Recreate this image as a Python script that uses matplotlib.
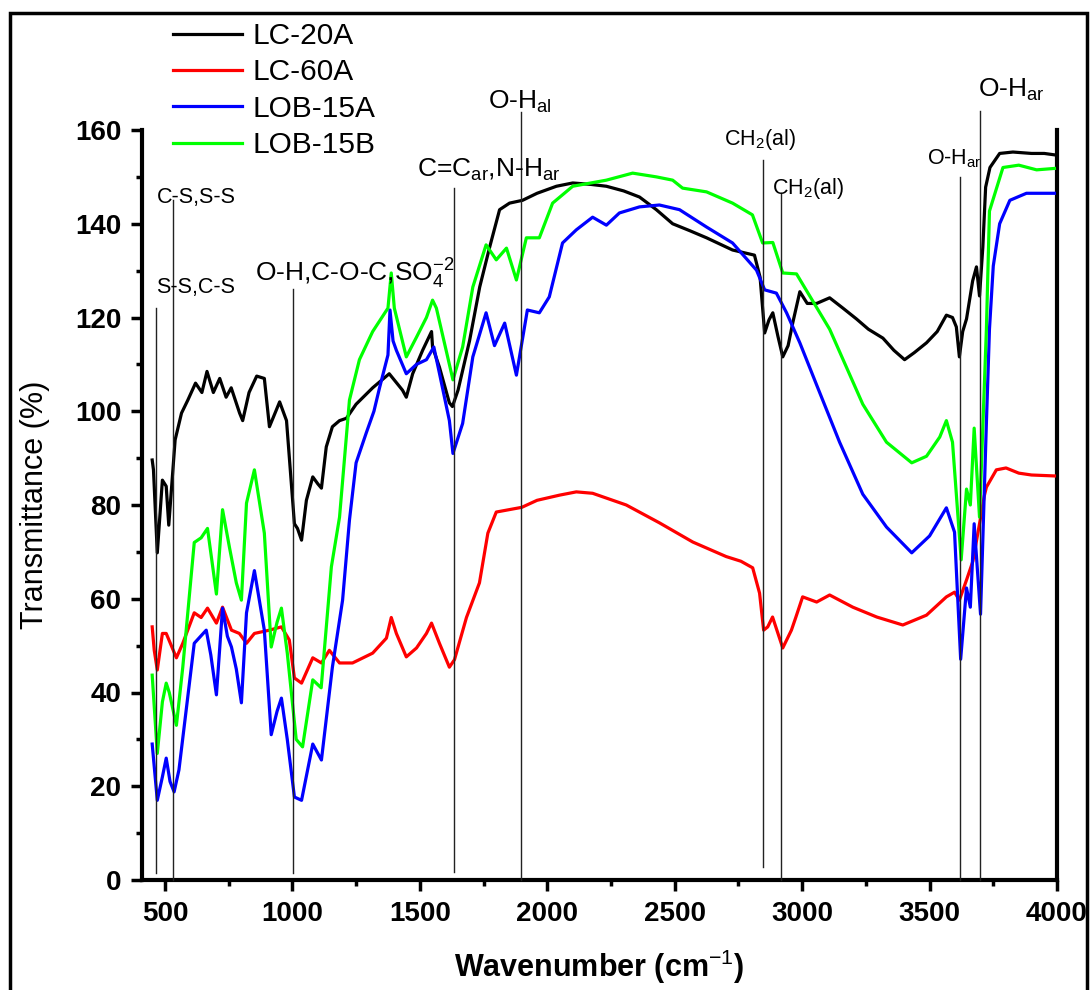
import matplotlib
matplotlib.use("Agg")
from matplotlib import pyplot as plt
from matplotlib.patches import Rectangle

plt.rcParams['font.family'] = ['Liberation Sans', 'DejaVu Sans']
plt.rcParams['mathtext.fontset'] = 'custom'
plt.rcParams['mathtext.rm'] = 'Liberation Sans'
plt.rcParams['mathtext.it'] = 'Liberation Sans:italic'
plt.rcParams['mathtext.bf'] = 'Liberation Sans:bold'

# LC-20A
lc20a_wn = [450, 455, 470, 490, 505, 515, 540, 565, 590, 620, 645, 665, 690, 715, 740, 760, 793, 805, 830,
            860, 890, 910, 935, 950, 977, 1008, 1020, 1036, 1055, 1080, 1100, 1114, 1133, 1157, 1185, 1212,
            1250, 1315, 1380, 1432, 1447, 1472, 1511, 1546, 1550, 1577, 1616, 1628, 1650, 1695, 1735, 1774,
            1813, 1852, 1903, 1960, 2036, 2100, 2170, 2232, 2300, 2362, 2428, 2492, 2560, 2625, 2727, 2813,
            2835, 2853, 2870, 2885, 2905, 2924, 2945, 2963, 2991, 3020, 3057, 3108, 3160, 3213, 3260, 3317,
            3360, 3402, 3440, 3488, 3530, 3566, 3590, 3605, 3617, 3630, 3645, 3669, 3684, 3696, 3709, 3720,
            3737, 3775, 3827, 3900, 3950, 3990]
lc20a_t = [89.6, 87.5, 69.8, 85.3, 84, 75.7, 93.9, 99.6, 102.4, 106, 104, 108.5, 104, 107, 103, 105, 99.6, 98,
           104, 107.5, 107, 96.7, 100, 102, 98, 76, 75, 72.5, 81, 86, 84.5, 83.6, 92.4, 96.7, 98, 98.5,
           101.5, 105, 108, 104.5, 103, 108, 113, 117, 113.7, 109.4, 101.8, 101, 104.5, 115, 126.5, 135,
           143, 144.4, 145, 146.5, 148, 148.7, 148.4, 148, 147, 145.7, 143, 140, 138.5, 137, 134.4, 133.3,
           128.6, 116.7, 119.5, 121, 116, 111.6, 114, 118.8, 125.5, 123, 123, 124.2, 122, 119.7, 117.5, 115.6,
           113, 111, 112.5, 114.6, 117, 120.5, 120, 118, 111.6, 117, 119.7, 127.8, 130.8, 124.6, 135, 147.8,
           152, 155, 155.3, 155, 155, 154.7]

# LC-60A
lc60a_wn = [450, 458, 470, 490, 505, 525, 545, 570, 615, 642, 667, 702, 726, 761, 792, 820, 851, 910, 957, 988,
            1008, 1036, 1080, 1114, 1145, 1185, 1236, 1315, 1369, 1388, 1408, 1447, 1487, 1526, 1546, 1577,
            1616, 1636, 1683, 1734, 1767, 1800, 1850, 1900, 1960, 2048, 2114, 2178, 2310, 2440, 2571, 2702,
            2760, 2806, 2833, 2849, 2865, 2884, 2924, 2958, 2975, 3002, 3057, 3108, 3199, 3293, 3395, 3488,
            3566, 3598, 3617, 3645, 3670, 3696, 3715, 3723, 3762, 3800, 3850, 3900, 3990]
lc60a_t = [54, 49, 44.8, 52.6, 52.6, 50, 47.4, 50.5, 57, 56, 58, 54.8, 58.2, 53.3, 52.6, 50.5, 52.6, 53.3, 54, 51.2,
           43.1, 42, 47.4, 46.3, 49, 46.3, 46.3, 48.4, 51.6, 56, 52.6, 47.6, 49.5, 52.6, 54.8, 50.5,
           45.4, 47, 56, 63.4, 74, 78.5, 79, 79.5, 81, 82.1, 82.8, 82.5, 80, 76.2, 72.1, 69,
           68, 66.6, 61.2, 53.3, 54, 56.1, 49.5, 53.3, 56, 60.4, 59.3, 60.8, 58.2, 56.1, 54.4, 56.5,
           60.4, 61.4, 59.7, 64, 68, 76, 82, 83.8, 87.5, 87.9, 86.8, 86.4, 86.2]

# LOB-15A
lob15a_wn = [450, 470, 490, 505, 520, 536, 555, 615, 662, 680, 702, 726, 745, 761, 780, 800, 820, 851, 890, 917,
             940, 957, 980, 1008, 1036, 1080, 1114, 1157, 1197, 1224, 1250, 1290, 1320, 1342, 1375, 1383, 1395,
             1408, 1447, 1487, 1526, 1555, 1577, 1616, 1630, 1668, 1708, 1760, 1793, 1833, 1879, 1922, 1969,
             2008, 2060, 2114, 2178, 2232, 2283, 2362, 2440, 2519, 2625, 2727, 2821, 2853, 2899, 2939, 2991,
             3057, 3147, 3238, 3331, 3430, 3500, 3566, 3598, 3622, 3645, 3660, 3675, 3700, 3723, 3735, 3750,
             3775, 3815, 3880, 3990]
lob15a_t = [29, 17, 22, 26, 21, 18.8, 23.5, 50.5, 53.3, 48, 39.5, 58, 52, 49.7, 45, 37.8, 57, 66, 53.3, 31,
            36, 38.8, 30, 17.7, 17, 29, 25.6, 45.4, 59.7, 76.8, 89, 95.4, 100, 105, 112, 121.6, 115,
            113, 108, 110, 111, 113.7, 108.1, 98, 91, 97.4, 111.6, 121, 114, 118.8, 107.7, 121.6, 121,
            124.4, 135.9, 138.7, 141.4, 139.7, 142.3, 143.6, 144, 143, 139.3, 135.9, 130.1, 125.9, 125.2, 121, 114.6,
            105.6, 93.4, 82.3, 75.3, 69.8, 73.4, 79.4, 74.2, 47.1, 62.3, 58.2, 76, 56.7, 97.5, 117.5, 131,
            140, 145, 146.5, 146.5]

# LOB-15B
lob15b_wn = [450, 470, 490, 505, 517, 545, 570, 615, 642, 667, 702, 726, 753, 780, 800, 820, 851, 890, 917, 940,
             957, 980, 1015, 1040, 1080, 1113, 1153, 1185, 1224, 1263, 1315, 1375, 1388, 1400, 1447, 1487, 1526,
             1550, 1565, 1630, 1668, 1708, 1760, 1800, 1840, 1879, 1918, 1969, 2021, 2100, 2232, 2335, 2428,
             2492, 2531, 2625, 2727, 2805, 2845, 2885, 2924, 2978, 3108, 3238, 3331, 3430, 3488, 3540, 3566,
             3590, 3624, 3645, 3660, 3675, 3696, 3723, 3735, 3788, 3850, 3920, 3990]
lob15b_t = [43.7, 27, 38, 42, 40, 33, 45.4, 72, 73, 75, 61, 79, 71, 63.4, 59.7, 80.4, 87.5, 74, 49.7, 55,
            58, 48.4, 30, 28.4, 42.7, 41, 66.8, 77.4, 102.4, 111, 117, 122, 129.5, 122, 111.6, 115.8, 120,
            123.7, 122, 106.7, 113.7, 126.5, 135.5, 132.3, 134.8, 128, 137, 137, 144.4, 148, 149.3, 150.8, 150,
            149.3, 147.6, 146.8, 144.4, 141.9, 135.9, 136, 129.5, 129.3, 117.5, 101.5, 93.4, 89, 90.4, 94.5, 98,
            93.4, 68.3, 83.4, 80, 96.4, 77.4, 117.5, 142.7, 152, 152.5, 151.5, 151.8]

# band assignments: label, line position, line bottom/top, text position, small font?
band_labels = ['S-S,C-S', 'C-S,S-S', r'O-H,C-O-C,SO$_4^{-2}$', r'C=C$_{\rm ar}$,N-H$_{\rm ar}$',
               r'O-H$_{\rm al}$', r'CH$_2$(al)', r'CH$_2$(al)', r'O-H$_{\rm ar}$', r'O-H$_{\rm ar}$']
band_wn = [464, 531, 1004, 1635, 1898, 2847, 2918, 3618, 3699]
band_bottom = [1.5, 0, 1.5, 1.7, 0, 2.8, 0, 0, 0]
band_top = [122, 145, 126, 147.6, 163.8, 153.6, 146.6, 150, 164]
band_text_wn = [467, 467, 855, 1487, 1766, 2695, 2880, 3488, 3692]
band_text_t = [126.5, 145.7, 129.3, 151.5, 166, 157.9, 147.6, 153.8, 168.5]
band_small = [True, True, False, False, False, True, True, True, False]

fig = plt.figure(figsize=(10.91, 9.9), dpi=100)
ax = fig.add_axes([142 / 1091, 1 - 880 / 990, (1057 - 142) / 1091, 750 / 990])

ax.plot(lc20a_wn, lc20a_t, color='#000000', lw=2.3, label='LC-20A', zorder=3)
ax.plot(lc60a_wn, lc60a_t, color='#ff0000', lw=2.3, label='LC-60A', zorder=3)
ax.plot(lob15a_wn, lob15a_t, color='#0000ff', lw=2.3, label='LOB-15A', zorder=3)
ax.plot(lob15b_wn, lob15b_t, color='#00ff00', lw=2.3, label='LOB-15B', zorder=3)

for i in range(len(band_wn)):
    ax.plot([band_wn[i], band_wn[i]], [band_bottom[i], band_top[i]], color='#222222', lw=1.0,
            clip_on=False, zorder=4)
    fs = 15.5 if band_small[i] else 19
    ax.text(band_text_wn[i], band_text_t[i], band_labels[i], fontsize=fs, ha='left', va='center',
            clip_on=False, zorder=5)

ax.set_xlim(410, 4000)
ax.set_ylim(0, 160)
ax.set_xticks([500, 1000, 1500, 2000, 2500, 3000, 3500, 4000])
ax.set_xticks([750, 1250, 1750, 2250, 2750, 3250, 3750], minor=True)
ax.set_yticks(range(0, 161, 20))
ax.set_yticks(range(10, 160, 20), minor=True)

ax.spines['top'].set_visible(False)
for s in ['left', 'right', 'bottom']:
    ax.spines[s].set_linewidth(3)
ax.tick_params(which='major', direction='out', length=8, width=2.5, labelsize=20, pad=7)
ax.tick_params(which='minor', direction='out', length=4, width=2.5)
ax.tick_params(right=False, top=False)
for lab in ax.get_xticklabels() + ax.get_yticklabels():
    lab.set_fontweight('bold')

ax.set_xlabel('Wavenumber (cm$^{-1}$)', fontsize=22, fontweight='bold')
ax.set_ylabel('Transmittance (%)', fontsize=22)
ax.xaxis.set_label_coords(0.5, -0.09)
ax.yaxis.set_label_coords(-0.10, 0.5)

fig.legend(loc='upper left', bbox_to_anchor=(173 / 1091, 1 - 22 / 990), bbox_transform=fig.transFigure,
           frameon=False, fontsize=21.5, handlelength=2.3, handletextpad=0.35, labelspacing=0.28,
           borderpad=0, borderaxespad=0)

fig.patches.append(Rectangle((10 / 1091, -0.05), (1087 - 10) / 1091, 1.05 - 13 / 990, fill=False,
                             lw=2.5, edgecolor='black', transform=fig.transFigure))

fig.savefig('out.png', dpi=100)
